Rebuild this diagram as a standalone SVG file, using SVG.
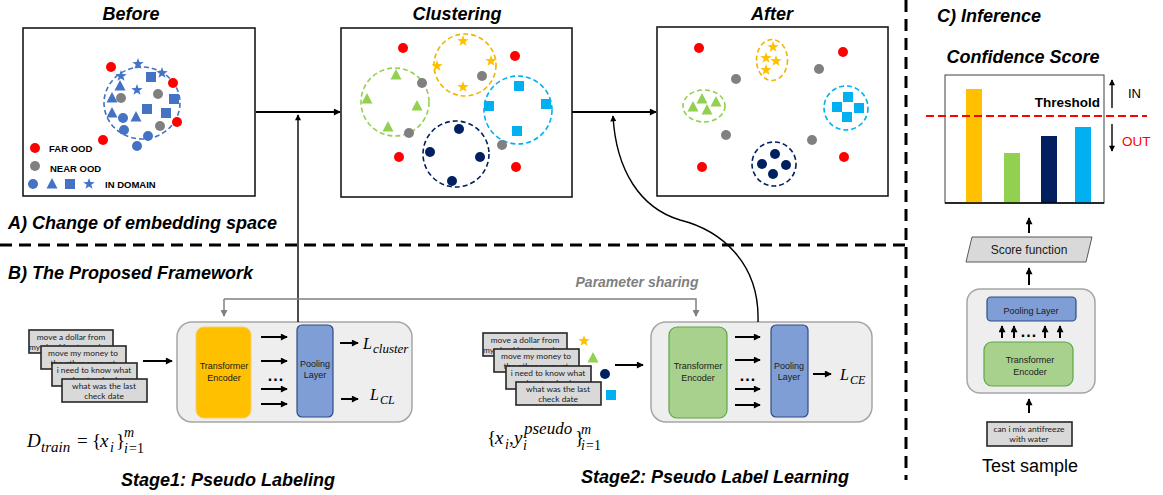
<svg xmlns="http://www.w3.org/2000/svg" xmlns:xlink="http://www.w3.org/1999/xlink" width="1163" height="495" viewBox="0 0 1163 495">
  <style>
    .title { font-family: "Liberation Sans", Arial, sans-serif; font-weight: bold; font-style: italic; fill: #000; }
    .legend { font-family: "Liberation Sans", Arial, sans-serif; font-weight: bold; font-size: 9.5px; fill: #000; }
    .lbl { font-family: "Liberation Sans", Arial, sans-serif; font-size: 9px; fill: #1a1a1a; text-anchor: middle; }
    .dots { font-family: "Liberation Sans", Arial, sans-serif; font-size: 16px; font-weight: bold; fill: #000; text-anchor: middle; letter-spacing: 1px; }
    .card { fill: #d9d9d9; stroke: #262626; stroke-width: 1.6; }
    .ctext { font-family: Lato, "Liberation Sans", sans-serif; font-size: 8.4px; fill: #1a1a1a; text-anchor: middle; }
    .math { font-family: "Liberation Serif", "Times New Roman", serif; fill: #000; }
    .it { font-style: italic; }
    .frame { fill: #fff; stroke: #1a1a1a; stroke-width: 1.6; }
    .panel { fill: #eeeeee; stroke: #a6a6a6; stroke-width: 1.5; }
    .pool { fill: #7f9ed6; stroke: #2f4b85; stroke-width: 1.2; }
    .enc-y { fill: #ffc000; stroke: #f5d06a; stroke-width: 1; }
    .enc-g { fill: #a9d18e; stroke: #5aa845; stroke-width: 1.2; }
    .arr { stroke: #000; stroke-width: 2; fill: none; marker-end: url(#head); }
    .thin { stroke: #000; stroke-width: 1.4; fill: none; marker-end: url(#headS); }
    .sep { stroke: #000; stroke-width: 3; stroke-dasharray: 12 7; fill: none; }
    .red { fill: #ff0000; } .gry { fill: #808080; } .blu { fill: #4472c4; }
    .grn { fill: #92d050; } .yel { fill: #ffc000; } .lbl2 { fill: #00b0f0; } .nav { fill: #002060; }
  </style>
  <defs>
    <marker id="head" viewBox="0 0 8 8" refX="7" refY="4" markerWidth="8" markerHeight="7" markerUnits="userSpaceOnUse" orient="auto">
      <path d="M0,0 L8,4 L0,8 z" fill="#000"/>
    </marker>
    <marker id="headS" viewBox="0 0 8 8" refX="7" refY="4" markerWidth="7" markerHeight="6" markerUnits="userSpaceOnUse" orient="auto">
      <path d="M0,0 L8,4 L0,8 z" fill="#000"/>
    </marker>
    <marker id="headG" viewBox="0 0 8 8" refX="7" refY="4" markerWidth="8" markerHeight="7" markerUnits="userSpaceOnUse" orient="auto">
      <path d="M0,0 L8,4 L0,8 z" fill="#808080"/>
    </marker>
    <path id="star" d="M0,-6 L1.41,-1.94 L5.71,-1.85 L2.28,0.74 L3.53,4.85 L0,2.4 L-3.53,4.85 L-2.28,0.74 L-5.71,-1.85 L-1.41,-1.94 Z"/>
    <path id="tri" d="M0,-6 L5.5,4.5 L-5.5,4.5 Z"/>
    <rect id="sq" x="-5" y="-5" width="10" height="10"/>
    <circle id="dot" r="5"/>
  </defs>

  <!-- section separators -->
  <g id="separators">
    <path class="sep" d="M0,245 H906"/>
    <path class="sep" d="M906,0 V480"/>
  </g>

  <!-- section headings -->
  <text class="title" x="131" y="20" font-size="18" text-anchor="middle">Before</text>
  <text class="title" x="457" y="20" font-size="18" text-anchor="middle">Clustering</text>
  <text class="title" x="772" y="20" font-size="18" text-anchor="middle">After</text>
  <text class="title" x="8" y="229" font-size="18">A) Change of embedding space</text>
  <text class="title" x="8" y="279" font-size="18">B) The Proposed Framework</text>
  <text class="title" x="937" y="22" font-size="18">C) Inference</text>

  <!-- embedding space before training -->
  <g id="before">
    <rect class="frame" x="23" y="28" width="232" height="168"/>
    <ellipse cx="142" cy="103" rx="38" ry="36" fill="none" stroke="#4472c4" stroke-width="1.6" stroke-dasharray="5 3"/>
    <g class="red">
      <use href="#dot" x="111" y="67"/><use href="#dot" x="173" y="83"/>
      <use href="#dot" x="177" y="122"/><use href="#dot" x="103" y="140"/>
    </g>
    <g class="gry">
      <use href="#dot" x="121" y="98"/><use href="#dot" x="158" y="94"/><use href="#dot" x="160" y="126"/>
    </g>
    <g class="blu">
      <use href="#dot" x="123" y="118"/><use href="#dot" x="124" y="130"/>
      <use href="#dot" x="148" y="136"/><use href="#dot" x="137" y="146"/>
      <use href="#tri" x="120" y="86"/><use href="#tri" x="112" y="98"/>
      <use href="#tri" x="112" y="113"/><use href="#tri" x="136" y="117"/>
      <use href="#sq" x="151" y="77"/><use href="#sq" x="174" y="99"/>
      <use href="#sq" x="147" y="109"/><use href="#sq" x="166" y="113"/>
      <use href="#star" x="138" y="64"/><use href="#star" x="121" y="76"/>
      <use href="#star" x="162" y="73"/><use href="#star" x="137" y="90"/>
    </g>
    <!-- legend -->
    <use href="#dot" x="35" y="148" class="red"/>
    <text class="legend" x="49" y="152">FAR OOD</text>
    <use href="#dot" x="35" y="166" class="gry"/>
    <text class="legend" x="50" y="172">NEAR OOD</text>
    <g class="blu">
      <use href="#dot" x="33" y="184"/><use href="#tri" x="52" y="184"/>
      <use href="#sq" x="70" y="184"/><use href="#star" x="89" y="184"/>
    </g>
    <text class="legend" x="105" y="188">IN DOMAIN</text>
  </g>

  <!-- embedding space during clustering -->
  <g id="clustering">
    <rect class="frame" x="341" y="28" width="231" height="169"/>
    <g fill="none" stroke-width="1.6" stroke-dasharray="5 3">
      <circle cx="395" cy="102" r="34" stroke="#92d050"/>
      <circle cx="465" cy="65" r="31" stroke="#f0b400"/>
      <circle cx="518" cy="110" r="34" stroke="#00b0f0"/>
      <circle cx="456" cy="154" r="33" stroke="#002060"/>
    </g>
    <g class="red">
      <use href="#dot" x="403" y="48"/><use href="#dot" x="515" y="56"/>
      <use href="#dot" x="399" y="157"/><use href="#dot" x="516" y="167"/>
    </g>
    <g class="gry">
      <use href="#dot" x="422" y="83"/><use href="#dot" x="482" y="76"/>
      <use href="#dot" x="409" y="133"/><use href="#dot" x="502" y="145"/>
    </g>
    <g class="grn">
      <use href="#tri" x="396" y="75"/><use href="#tri" x="367" y="99"/>
      <use href="#tri" x="417" y="106"/><use href="#tri" x="388" y="127"/>
    </g>
    <g class="yel">
      <use href="#star" x="463" y="41"/><use href="#star" x="437" y="66"/>
      <use href="#star" x="491" y="61"/><use href="#star" x="463" y="87"/>
    </g>
    <g class="lbl2">
      <use href="#sq" x="519" y="86"/><use href="#sq" x="489" y="106"/>
      <use href="#sq" x="546" y="104"/><use href="#sq" x="517" y="131"/>
    </g>
    <g class="nav">
      <use href="#dot" x="459" y="129"/><use href="#dot" x="430" y="152"/>
      <use href="#dot" x="480" y="157"/><use href="#dot" x="452" y="181"/>
    </g>
  </g>

  <!-- embedding space after training -->
  <g id="after">
    <rect class="frame" x="657" y="27" width="231" height="169"/>
    <g fill="none" stroke-width="1.6" stroke-dasharray="5 3">
      <ellipse cx="772" cy="60" rx="15.5" ry="20.5" stroke="#f0b400"/>
      <ellipse cx="704" cy="106" rx="21" ry="16" stroke="#92d050"/>
      <circle cx="846" cy="108" r="22" stroke="#00b0f0"/>
      <circle cx="774" cy="164" r="22" stroke="#002060"/>
    </g>
    <g class="red">
      <use href="#dot" x="699" y="48"/><use href="#dot" x="843" y="52"/>
      <use href="#dot" x="702" y="167"/><use href="#dot" x="844" y="157"/>
    </g>
    <g class="gry">
      <use href="#dot" x="736" y="79"/><use href="#dot" x="819" y="69"/>
      <use href="#dot" x="726" y="135"/><use href="#dot" x="812" y="140"/>
    </g>
    <g class="yel">
      <use href="#star" x="773" y="47"/><use href="#star" x="766" y="58"/>
      <use href="#star" x="776" y="61"/><use href="#star" x="766" y="70"/>
    </g>
    <g class="grn">
      <use href="#tri" x="693" y="107"/><use href="#tri" x="702" y="99"/>
      <use href="#tri" x="707" y="110"/><use href="#tri" x="716" y="102"/>
    </g>
    <g class="lbl2">
      <use href="#sq" x="848" y="97"/><use href="#sq" x="837" y="107"/>
      <use href="#sq" x="859" y="108"/><use href="#sq" x="847" y="117"/>
    </g>
    <g class="nav">
      <use href="#dot" x="775" y="154"/><use href="#dot" x="762" y="164"/>
      <use href="#dot" x="786" y="165"/><use href="#dot" x="773" y="174"/>
    </g>
  </g>

  <!-- stage 1: pseudo labeling -->
  <g id="stage1-inputs">
    <rect class="card" x="29" y="330" width="84" height="23"/>
    <text class="ctext" x="71" y="340">move a dollar from</text>
    <text class="ctext" x="71" y="350">my checking to savings</text>
    <rect class="card" x="41" y="346" width="85" height="23"/>
    <text class="ctext" x="83" y="356">move my money to</text>
    <text class="ctext" x="83" y="366">the other account</text>
    <rect class="card" x="52" y="363" width="85" height="23"/>
    <text class="ctext" x="94" y="373">i need to know what</text>
    <text class="ctext" x="94" y="383">about a check</text>
    <rect class="card" x="62" y="379" width="85" height="23"/>
    <text class="ctext" x="104" y="389">what was the last</text>
    <text class="ctext" x="104" y="399">check date</text>
  </g>
  <g id="stage1-model">
    <rect class="panel" x="177" y="322" width="235" height="100" rx="15"/>
    <rect class="enc-y" x="196" y="327" width="55" height="91" rx="8"/>
    <text class="lbl" x="224" y="369">Transformer</text>
    <text class="lbl" x="224" y="381">Encoder</text>
    <rect class="pool" x="297" y="325" width="36" height="92" rx="5"/>
    <text class="lbl" x="315" y="367">Pooling</text>
    <text class="lbl" x="315" y="378">Layer</text>
    <text class="dots" x="276" y="381">...</text>
  </g>
  <!-- D_train = {x_i}_{i=1}^m -->
  <text id="stage1-formula" class="math" font-size="19"><tspan class="it" x="27" y="447">D</tspan><tspan class="it" x="41" y="452" font-size="15">train</tspan><tspan x="77" y="447">=</tspan><tspan x="92" y="447">{</tspan><tspan class="it" x="100" y="447">x</tspan><tspan class="it" x="110" y="452" font-size="14">i</tspan><tspan x="116" y="447">}</tspan><tspan class="it" x="124" y="437" font-size="14">m</tspan><tspan class="it" x="124" y="453" font-size="14">i</tspan><tspan x="129" y="453" font-size="14">=1</tspan></text>
  <g id="stage1-losses" class="math">
    <text font-size="16"><tspan class="it" x="363" y="349">L</tspan><tspan class="it" x="373" y="353" font-size="13">cluster</tspan></text>
    <text font-size="16"><tspan class="it" x="370" y="400">L</tspan><tspan class="it" x="380" y="404" font-size="12">CL</tspan></text>
  </g>
  <text class="title" x="228" y="486" font-size="18" text-anchor="middle">Stage1: Pseudo Labeling</text>

  <!-- stage 2: pseudo label learning -->
  <g id="stage2-inputs">
    <rect class="card" x="483" y="333" width="84" height="23"/>
    <text class="ctext" x="525" y="343">move a dollar from</text>
    <text class="ctext" x="525" y="353">my checking to savings</text>
    <rect class="card" x="494" y="349" width="85" height="23"/>
    <text class="ctext" x="536" y="359">move my money to</text>
    <text class="ctext" x="536" y="369">the other account</text>
    <rect class="card" x="506" y="366" width="85" height="23"/>
    <text class="ctext" x="548" y="376">i need to know what</text>
    <text class="ctext" x="548" y="386">about a check</text>
    <rect class="card" x="516" y="382" width="85" height="23"/>
    <text class="ctext" x="558" y="392">what was the last</text>
    <text class="ctext" x="558" y="402">check date</text>
    <use href="#star" x="584" y="341" class="yel"/>
    <use href="#tri" x="593" y="358" class="grn"/>
    <use href="#dot" x="605" y="374" class="nav"/>
    <use href="#sq" x="611" y="395" class="lbl2"/>
  </g>
  <g id="stage2-model">
    <rect class="panel" x="651" y="322" width="221" height="100" rx="15"/>
    <rect class="enc-g" x="669" y="327" width="58" height="91" rx="8"/>
    <text class="lbl" x="698" y="369">Transformer</text>
    <text class="lbl" x="698" y="381">Encoder</text>
    <rect class="pool" x="771" y="325" width="37" height="92" rx="5"/>
    <text class="lbl" x="789" y="369">Pooling</text>
    <text class="lbl" x="789" y="380">Layer</text>
    <text class="dots" x="748" y="381">...</text>
  </g>
  <!-- {x_i, y_i^pseudo}_{i=1}^m -->
  <text id="stage2-formula" class="math" font-size="19"><tspan x="487" y="444">{</tspan><tspan class="it" x="495" y="444">x</tspan><tspan class="it" x="505" y="449" font-size="14">i</tspan><tspan x="509" y="444">,</tspan><tspan class="it" x="514" y="444">y</tspan><tspan class="it" x="523" y="450" font-size="14">i</tspan><tspan class="it" x="524" y="434" font-size="17">pseudo</tspan><tspan x="575" y="444">}</tspan><tspan class="it" x="581" y="434" font-size="14">m</tspan><tspan class="it" x="581" y="450" font-size="14">i</tspan><tspan x="586" y="450" font-size="14">=1</tspan></text>
  <text id="stage2-loss" class="math" font-size="16"><tspan class="it" x="840" y="380">L</tspan><tspan class="it" x="850" y="384" font-size="12">CE</tspan></text>
  <text x="637" y="287" font-family="Liberation Sans, Arial, sans-serif" font-weight="bold" font-style="italic" font-size="14" fill="#7f7f7f" text-anchor="middle">Parameter sharing</text>
  <text class="title" x="715" y="483" font-size="18" text-anchor="middle">Stage2: Pseudo Label Learning</text>

  <!-- inference -->
  <text class="title" x="1023" y="63" font-size="18" text-anchor="middle">Confidence Score</text>
  <g id="score-chart">
    <rect x="945" y="75" width="159" height="128" fill="#fff" stroke="#404040" stroke-width="1"/>
    <rect x="966" y="89" width="16" height="114" fill="#ffc000"/>
    <rect x="1004" y="153" width="16" height="50" fill="#92d050"/>
    <rect x="1041" y="136" width="16" height="67" fill="#002060"/>
    <rect x="1075" y="127" width="16" height="76" fill="#00b0f0"/>
    <path d="M945,203 H1104" stroke="#000" stroke-width="1.5"/>
    <path d="M926,116 H1147" stroke="#ff0000" stroke-width="2" stroke-dasharray="8 4"/>
    <text x="1100" y="107" font-family="Liberation Sans, Arial, sans-serif" font-weight="bold" font-size="13.5" text-anchor="end">Threshold</text>
    <path class="thin" d="M1112,108 V80"/>
    <path class="thin" d="M1112,124 V151"/>
    <text x="1128" y="98" font-family="Liberation Sans, Arial, sans-serif" font-size="13">IN</text>
    <text x="1122" y="146" font-family="Liberation Sans, Arial, sans-serif" font-size="13.5" fill="#ff0000">OUT</text>
  </g>
  <g id="score-function">
    <path d="M972,237 H1092 L1086,262 H966 Z" fill="#d9d9d9" stroke="#595959" stroke-width="1"/>
    <text x="1029" y="254" font-family="Liberation Sans, Arial, sans-serif" font-size="12" text-anchor="middle" fill="#1a1a1a">Score function</text>
  </g>
  <g id="inference-model">
    <rect class="panel" x="967" y="289" width="128" height="104" rx="13"/>
    <rect class="pool" x="987" y="297" width="89" height="24" rx="4"/>
    <text class="lbl" x="1031" y="314">Pooling Layer</text>
    <rect class="enc-g" x="984" y="342" width="89" height="44" rx="8" stroke="#3cb55a"/>
    <text class="lbl" x="1030" y="363" font-size="10">Transformer</text>
    <text class="lbl" x="1030" y="375" font-size="10">Encoder</text>
    <text class="dots" x="1029" y="337" font-size="14">...</text>
  </g>
  <g id="test-sample">
    <rect class="card" x="987" y="422" width="85" height="24"/>
    <text class="ctext" x="1029" y="432">can i mix antifreeze</text>
    <text class="ctext" x="1029" y="442">with water</text>
    <text x="1030" y="472" font-family="Liberation Sans, Arial, sans-serif" font-size="18" text-anchor="middle">Test sample</text>
  </g>

  <!-- connectors -->
  <g id="connectors">
    <!-- embedding space flow -->
    <path class="arr" d="M256,112 H340"/>
    <path class="arr" d="M572,112 H656"/>
    <path class="thin" d="M298,322 V115"/>
    <path class="thin" d="M758,322 C760,262 720,230 680,220 C640,208 616,170 613,116"/>
    <!-- parameter sharing -->
    <path d="M224,299 H696 V316" fill="none" stroke="#808080" stroke-width="1.5" marker-end="url(#headG)"/>
    <path d="M224,299 V316" fill="none" stroke="#808080" stroke-width="1.5" marker-end="url(#headG)"/>
    <!-- stage 1 -->
    <path class="arr" d="M143,361 H172"/>
    <path class="arr" d="M261,337 H287"/>
    <path class="arr" d="M261,361 H287"/>
    <path class="arr" d="M261,389 H287"/>
    <path class="arr" d="M261,404 H287"/>
    <path class="arr" d="M340,343 H358"/>
    <path class="arr" d="M341,399 H358"/>
    <!-- stage 2 -->
    <path class="arr" d="M615,365 H643"/>
    <path class="arr" d="M735,337 H760"/>
    <path class="arr" d="M735,360 H760"/>
    <path class="arr" d="M735,389 H760"/>
    <path class="arr" d="M735,405 H760"/>
    <path class="arr" d="M813,374 H831"/>
    <!-- inference -->
    <path class="arr" d="M1029,233 V218"/>
    <path class="arr" d="M1029,285 V268"/>
    <path class="arr" d="M1002,338 V326"/>
    <path class="arr" d="M1014,338 V326"/>
    <path class="arr" d="M1045,338 V326"/>
    <path class="arr" d="M1060,338 V326"/>
    <path class="arr" d="M1029,413 V399"/>
  </g>
</svg>
